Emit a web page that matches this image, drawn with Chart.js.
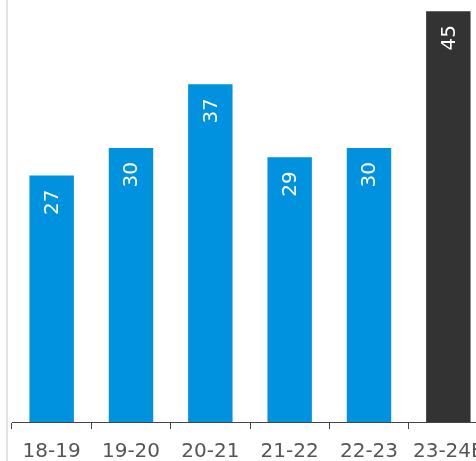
<!DOCTYPE html>
<html>
<head>
<meta charset="utf-8">
<script src="https://cdn.jsdelivr.net/npm/chart.js@4/dist/chart.umd.min.js"></script>
<style>
  html, body { margin: 0; padding: 0; background: #fff; overflow: hidden; }
  #wrap { position: relative; width: 476px; height: 461px; overflow: hidden; }
  #rule { position: absolute; left: 6px; top: 0; width: 2px; height: 461px; background: #e3e3e3; }
  canvas { position: absolute; left: 0; top: 0; }
</style>
</head>
<body>
<div id="wrap">
  <div id="rule"></div>
  <canvas id="c" width="560" height="475"></canvas>
</div>
<script>
// Seasons and values
const seasons = ['18-19', '19-20', '20-21', '21-22', '22-23', '23-24E'];
const values = [27, 30, 37, 29, 30, 45];
const barColors = ['#0091df', '#0091df', '#0091df', '#0091df', '#0091df', '#333333'];

const FONT = '"DejaVu Sans", sans-serif';

// Writes each value vertically inside the top of its bar
const barValueLabels = {
  id: 'barValueLabels',
  afterDatasetsDraw(chart) {
    const ctx = chart.ctx;
    const meta = chart.getDatasetMeta(0);
    ctx.save();
    ctx.fillStyle = '#ffffff';
    ctx.font = '20px ' + FONT;
    ctx.textAlign = 'right';
    ctx.textBaseline = 'middle';
    meta.data.forEach((bar, i) => {
      ctx.save();
      ctx.translate(bar.x, bar.y + 14);
      ctx.rotate(-Math.PI / 2);
      ctx.fillText(String(values[i]), 0, 1);
      ctx.restore();
    });
    ctx.restore();
  }
};

new Chart(document.getElementById('c'), {
  type: 'bar',
  data: {
    labels: seasons,
    datasets: [{
      data: values,
      backgroundColor: barColors,
      borderWidth: 0,
      categoryPercentage: 1,
      barPercentage: 0.56
    }]
  },
  options: {
    responsive: false,
    animation: false,
    devicePixelRatio: 1,
    layout: { padding: { left: 12, right: 72, top: 2, bottom: 0 } },
    plugins: { legend: { display: false }, tooltip: { enabled: false } },
    scales: {
      x: {
        grid: {
          display: true,
          drawOnChartArea: false,
          drawTicks: true,
          tickLength: 7,
          color: '#444444',
          lineWidth: 1,
          offset: true
        },
        border: { display: true, color: '#444444', width: 1 },
        ticks: {
          color: '#555555',
          font: { family: FONT, size: 20 },
          padding: 11,
          maxRotation: 0,
          autoSkip: false
        }
      },
      y: {
        display: false,
        min: 0,
        max: 46
      }
    }
  },
  plugins: [barValueLabels]
});
</script>
</body>
</html>
